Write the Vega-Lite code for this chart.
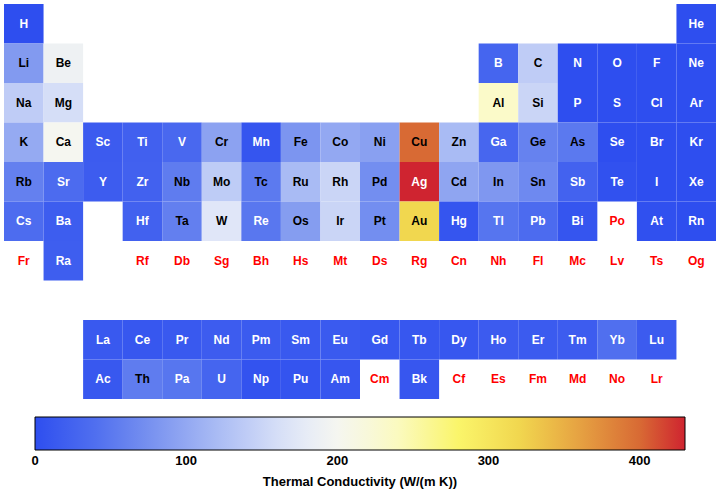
{
  "$schema": "https://vega.github.io/schema/vega-lite/v6.json",
  "width": 712,
  "height": 395,
  "autosize": {"type": "none"},
  "padding": {"left": 4, "top": 4, "right": 4, "bottom": 95},
  "background": "white",
  "config": {"view": {"stroke": null}},
  "data": {"values": [
    {"s": "H", "col": 1, "row": 1, "k": 0.1805},
    {"s": "He", "col": 18, "row": 1, "k": 0.1513},
    {"s": "Li", "col": 1, "row": 2, "k": 85},
    {"s": "Be", "col": 2, "row": 2, "k": 190},
    {"s": "B", "col": 13, "row": 2, "k": 27},
    {"s": "C", "col": 14, "row": 2, "k": 140},
    {"s": "N", "col": 15, "row": 2, "k": 0.02583},
    {"s": "O", "col": 16, "row": 2, "k": 0.02658},
    {"s": "F", "col": 17, "row": 2, "k": 0.0277},
    {"s": "Ne", "col": 18, "row": 2, "k": 0.0491},
    {"s": "Na", "col": 1, "row": 3, "k": 140},
    {"s": "Mg", "col": 2, "row": 3, "k": 160},
    {"s": "Al", "col": 13, "row": 3, "k": 235},
    {"s": "Si", "col": 14, "row": 3, "k": 150},
    {"s": "P", "col": 15, "row": 3, "k": 0.236},
    {"s": "S", "col": 16, "row": 3, "k": 0.205},
    {"s": "Cl", "col": 17, "row": 3, "k": 0.0089},
    {"s": "Ar", "col": 18, "row": 3, "k": 0.01772},
    {"s": "K", "col": 1, "row": 4, "k": 102.5},
    {"s": "Ca", "col": 2, "row": 4, "k": 200},
    {"s": "Sc", "col": 3, "row": 4, "k": 16},
    {"s": "Ti", "col": 4, "row": 4, "k": 22},
    {"s": "V", "col": 5, "row": 4, "k": 31},
    {"s": "Cr", "col": 6, "row": 4, "k": 94},
    {"s": "Mn", "col": 7, "row": 4, "k": 7.8},
    {"s": "Fe", "col": 8, "row": 4, "k": 80},
    {"s": "Co", "col": 9, "row": 4, "k": 100},
    {"s": "Ni", "col": 10, "row": 4, "k": 91},
    {"s": "Cu", "col": 11, "row": 4, "k": 400},
    {"s": "Zn", "col": 12, "row": 4, "k": 120},
    {"s": "Ga", "col": 13, "row": 4, "k": 29},
    {"s": "Ge", "col": 14, "row": 4, "k": 60},
    {"s": "As", "col": 15, "row": 4, "k": 50},
    {"s": "Se", "col": 16, "row": 4, "k": 0.52},
    {"s": "Br", "col": 17, "row": 4, "k": 0.12},
    {"s": "Kr", "col": 18, "row": 4, "k": 0.00943},
    {"s": "Rb", "col": 1, "row": 5, "k": 58},
    {"s": "Sr", "col": 2, "row": 5, "k": 35},
    {"s": "Y", "col": 3, "row": 5, "k": 17},
    {"s": "Zr", "col": 4, "row": 5, "k": 23},
    {"s": "Nb", "col": 5, "row": 5, "k": 54},
    {"s": "Mo", "col": 6, "row": 5, "k": 139},
    {"s": "Tc", "col": 7, "row": 5, "k": 51},
    {"s": "Ru", "col": 8, "row": 5, "k": 120},
    {"s": "Rh", "col": 9, "row": 5, "k": 150},
    {"s": "Pd", "col": 10, "row": 5, "k": 72},
    {"s": "Ag", "col": 11, "row": 5, "k": 430},
    {"s": "Cd", "col": 12, "row": 5, "k": 97},
    {"s": "In", "col": 13, "row": 5, "k": 82},
    {"s": "Sn", "col": 14, "row": 5, "k": 67},
    {"s": "Sb", "col": 15, "row": 5, "k": 24},
    {"s": "Te", "col": 16, "row": 5, "k": 3},
    {"s": "I", "col": 17, "row": 5, "k": 0.449},
    {"s": "Xe", "col": 18, "row": 5, "k": 0.00565},
    {"s": "Cs", "col": 1, "row": 6, "k": 36},
    {"s": "Ba", "col": 2, "row": 6, "k": 18},
    {"s": "Hf", "col": 4, "row": 6, "k": 23},
    {"s": "Ta", "col": 5, "row": 6, "k": 57},
    {"s": "W", "col": 6, "row": 6, "k": 170},
    {"s": "Re", "col": 7, "row": 6, "k": 48},
    {"s": "Os", "col": 8, "row": 6, "k": 88},
    {"s": "Ir", "col": 9, "row": 6, "k": 150},
    {"s": "Pt", "col": 10, "row": 6, "k": 72},
    {"s": "Au", "col": 11, "row": 6, "k": 320},
    {"s": "Hg", "col": 12, "row": 6, "k": 8.3},
    {"s": "Tl", "col": 13, "row": 6, "k": 46},
    {"s": "Pb", "col": 14, "row": 6, "k": 35},
    {"s": "Bi", "col": 15, "row": 6, "k": 8},
    {"s": "Po", "col": 16, "row": 6, "k": null},
    {"s": "At", "col": 17, "row": 6, "k": 2},
    {"s": "Rn", "col": 18, "row": 6, "k": 0.00361},
    {"s": "Fr", "col": 1, "row": 7, "k": null},
    {"s": "Ra", "col": 2, "row": 7, "k": 18.6},
    {"s": "Rf", "col": 4, "row": 7, "k": null},
    {"s": "Db", "col": 5, "row": 7, "k": null},
    {"s": "Sg", "col": 6, "row": 7, "k": null},
    {"s": "Bh", "col": 7, "row": 7, "k": null},
    {"s": "Hs", "col": 8, "row": 7, "k": null},
    {"s": "Mt", "col": 9, "row": 7, "k": null},
    {"s": "Ds", "col": 10, "row": 7, "k": null},
    {"s": "Rg", "col": 11, "row": 7, "k": null},
    {"s": "Cn", "col": 12, "row": 7, "k": null},
    {"s": "Nh", "col": 13, "row": 7, "k": null},
    {"s": "Fl", "col": 14, "row": 7, "k": null},
    {"s": "Mc", "col": 15, "row": 7, "k": null},
    {"s": "Lv", "col": 16, "row": 7, "k": null},
    {"s": "Ts", "col": 17, "row": 7, "k": null},
    {"s": "Og", "col": 18, "row": 7, "k": null},
    {"s": "La", "col": 3, "row": 9, "k": 13},
    {"s": "Ce", "col": 4, "row": 9, "k": 11},
    {"s": "Pr", "col": 5, "row": 9, "k": 13},
    {"s": "Nd", "col": 6, "row": 9, "k": 17},
    {"s": "Pm", "col": 7, "row": 9, "k": 15},
    {"s": "Sm", "col": 8, "row": 9, "k": 13},
    {"s": "Eu", "col": 9, "row": 9, "k": 14},
    {"s": "Gd", "col": 10, "row": 9, "k": 11},
    {"s": "Tb", "col": 11, "row": 9, "k": 11},
    {"s": "Dy", "col": 12, "row": 9, "k": 11},
    {"s": "Ho", "col": 13, "row": 9, "k": 16},
    {"s": "Er", "col": 14, "row": 9, "k": 15},
    {"s": "Tm", "col": 15, "row": 9, "k": 17},
    {"s": "Yb", "col": 16, "row": 9, "k": 39},
    {"s": "Lu", "col": 17, "row": 9, "k": 16},
    {"s": "Ac", "col": 3, "row": 10, "k": 12},
    {"s": "Th", "col": 4, "row": 10, "k": 54},
    {"s": "Pa", "col": 5, "row": 10, "k": 47},
    {"s": "U", "col": 6, "row": 10, "k": 27},
    {"s": "Np", "col": 7, "row": 10, "k": 6.3},
    {"s": "Pu", "col": 8, "row": 10, "k": 6.74},
    {"s": "Am", "col": 9, "row": 10, "k": 10},
    {"s": "Cm", "col": 10, "row": 10, "k": null},
    {"s": "Bk", "col": 11, "row": 10, "k": 10},
    {"s": "Cf", "col": 12, "row": 10, "k": null},
    {"s": "Es", "col": 13, "row": 10, "k": null},
    {"s": "Fm", "col": 14, "row": 10, "k": null},
    {"s": "Md", "col": 15, "row": 10, "k": null},
    {"s": "No", "col": 16, "row": 10, "k": null},
    {"s": "Lr", "col": 17, "row": 10, "k": null}
  ]},
  "encoding": {
    "x": {"field": "col", "type": "ordinal", "axis": null,
          "scale": {"domain": [1,2,3,4,5,6,7,8,9,10,11,12,13,14,15,16,17,18], "paddingInner": 0, "paddingOuter": 0}},
    "y": {"field": "row", "type": "ordinal", "axis": null,
          "scale": {"domain": [1,2,3,4,5,6,7,8,9,10], "paddingInner": 0, "paddingOuter": 0}}
  },
  "layer": [
    {
      "transform": [{"filter": "datum.k != null"}],
      "mark": {"type": "rect", "strokeWidth": 0},
      "encoding": {
        "color": {
          "field": "k", "type": "quantitative",
          "scale": {
            "domain": [0, 43, 86, 129, 172, 200, 236, 280, 322, 365, 400, 430],
            "range": ["#2E4EEF", "#5372EF", "#839BF0", "#B3C3F5", "#E2E8F8", "#F5F6F0", "#FBFAC8", "#FAF56A", "#F1D54E", "#E49B40", "#D86A34", "#CF2430"],
            "interpolate": "rgb"
          },
          "legend": {
            "orient": "none",
            "direction": "horizontal",
            "legendX": 31,
            "legendY": 413,
            "padding": 0,
            "gradientLength": 650,
            "gradientThickness": 33,
            "gradientStrokeColor": "black",
            "gradientStrokeWidth": 1,
            "values": [0.01, 100, 200, 300, 400],
            "labelExpr": "format(datum.value, '.0f')",
            "labelAlign": "center",
            "labelFont": "Liberation Sans",
            "labelFontWeight": "bold",
            "labelFontSize": 13,
            "labelColor": "black",
            "labelOffset": 5,
            "title": "Thermal Conductivity (W/(m K))",
            "titleLimit": 700,
            "titleOrient": "bottom",
            "titleAnchor": "middle",
            "titleFont": "Liberation Sans",
            "titleFontWeight": "bold",
            "titleFontSize": 13,
            "titleColor": "black",
            "titlePadding": 8
          }
        }
      }
    },
    {
      "mark": {"type": "text", "font": "Liberation Sans", "fontWeight": "bold", "fontSize": 12, "baseline": "middle", "align": "center"},
      "encoding": {
        "text": {"field": "s"},
        "color": {
          "condition": [
            {"test": "datum.k == null", "value": "#FF0000"},
            {"test": "datum.k < 49 || datum.k > 410", "value": "white"}
          ],
          "value": "black"
        }
      }
    }
  ]
}
